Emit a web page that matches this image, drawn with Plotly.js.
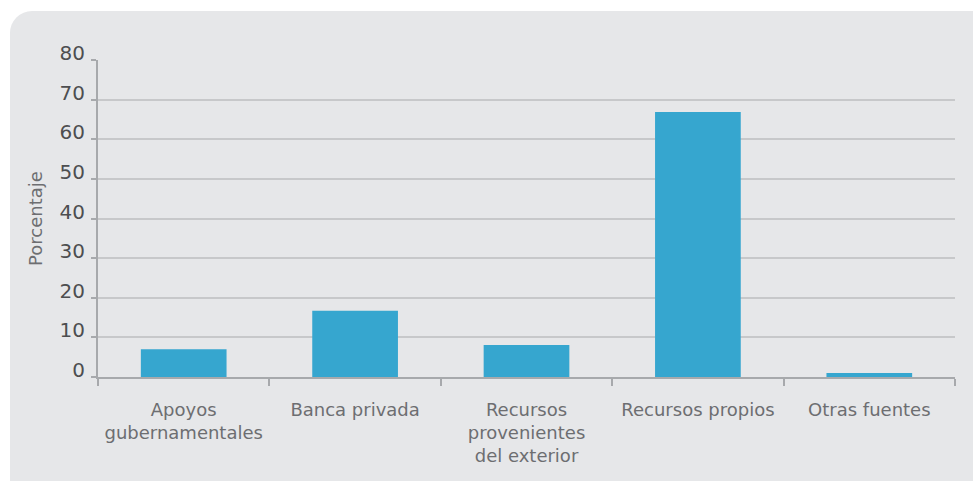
<!DOCTYPE html>
<html>
<head>
<meta charset="utf-8">
<script src="https://cdn.plot.ly/plotly-3.0.1.min.js"></script>
<style>
html,body{margin:0;padding:0;background:#ffffff;}
#wrap{position:relative;width:973px;height:481px;overflow:hidden;}
#panel{position:absolute;left:10px;top:11px;width:990px;height:500px;background:#e6e7e9;border-radius:22px;}
#chart{position:absolute;left:0;top:0;width:973px;height:481px;}
</style>
</head>
<body>
<div id="wrap"><div id="panel"></div><div id="chart"></div></div>
<script>
const categories = ["Apoyos<br>gubernamentales", "Banca privada", "Recursos<br>provenientes<br>del exterior", "Recursos propios", "Otras fuentes"];
const values = [7.0, 16.7, 8.1, 66.9, 1.0];
const yTicks = [0, 10, 20, 30, 40, 50, 60, 70, 80];

const font = "DejaVu Sans, sans-serif";

Plotly.newPlot("chart", [{
  type: "bar",
  x: categories,
  y: values,
  marker: {color: "#36a6cf"},
  hoverinfo: "skip"
}], {
  width: 973, height: 481,
  margin: {l: 98, r: 18, t: 60, b: 104},
  paper_bgcolor: "rgba(0,0,0,0)",
  plot_bgcolor: "rgba(0,0,0,0)",
  bargap: 0.5,
  showlegend: false,
  xaxis: {
    type: "category",
    tickson: "boundaries",
    ticks: "outside", ticklen: 7, tickwidth: 2, tickcolor: "#a7a9ac",
    showline: true, linecolor: "#a7a9ac", linewidth: 2,
    showgrid: false,
    ticklabelstandoff: 15,
    tickfont: {family: font, size: 18, color: "#6d6e71"}
  },
  yaxis: {
    range: [0, 80],
    tickvals: yTicks,
    ticks: "outside", ticklen: 5, tickwidth: 2, tickcolor: "#a7a9ac",
    showline: true, linecolor: "#a7a9ac", linewidth: 2,
    gridcolor: "#c7c8ca", gridwidth: 2,
    zeroline: false,
    ticklabelshift: -7,
    ticklabelstandoff: 2,
    tickfont: {family: font, size: 20, color: "#4d4e50"},
    title: {text: "Porcentaje", standoff: 12, font: {family: font, size: 18, color: "#6d6e71"}}
  }
}, {staticPlot: true});
</script>
</body>
</html>
